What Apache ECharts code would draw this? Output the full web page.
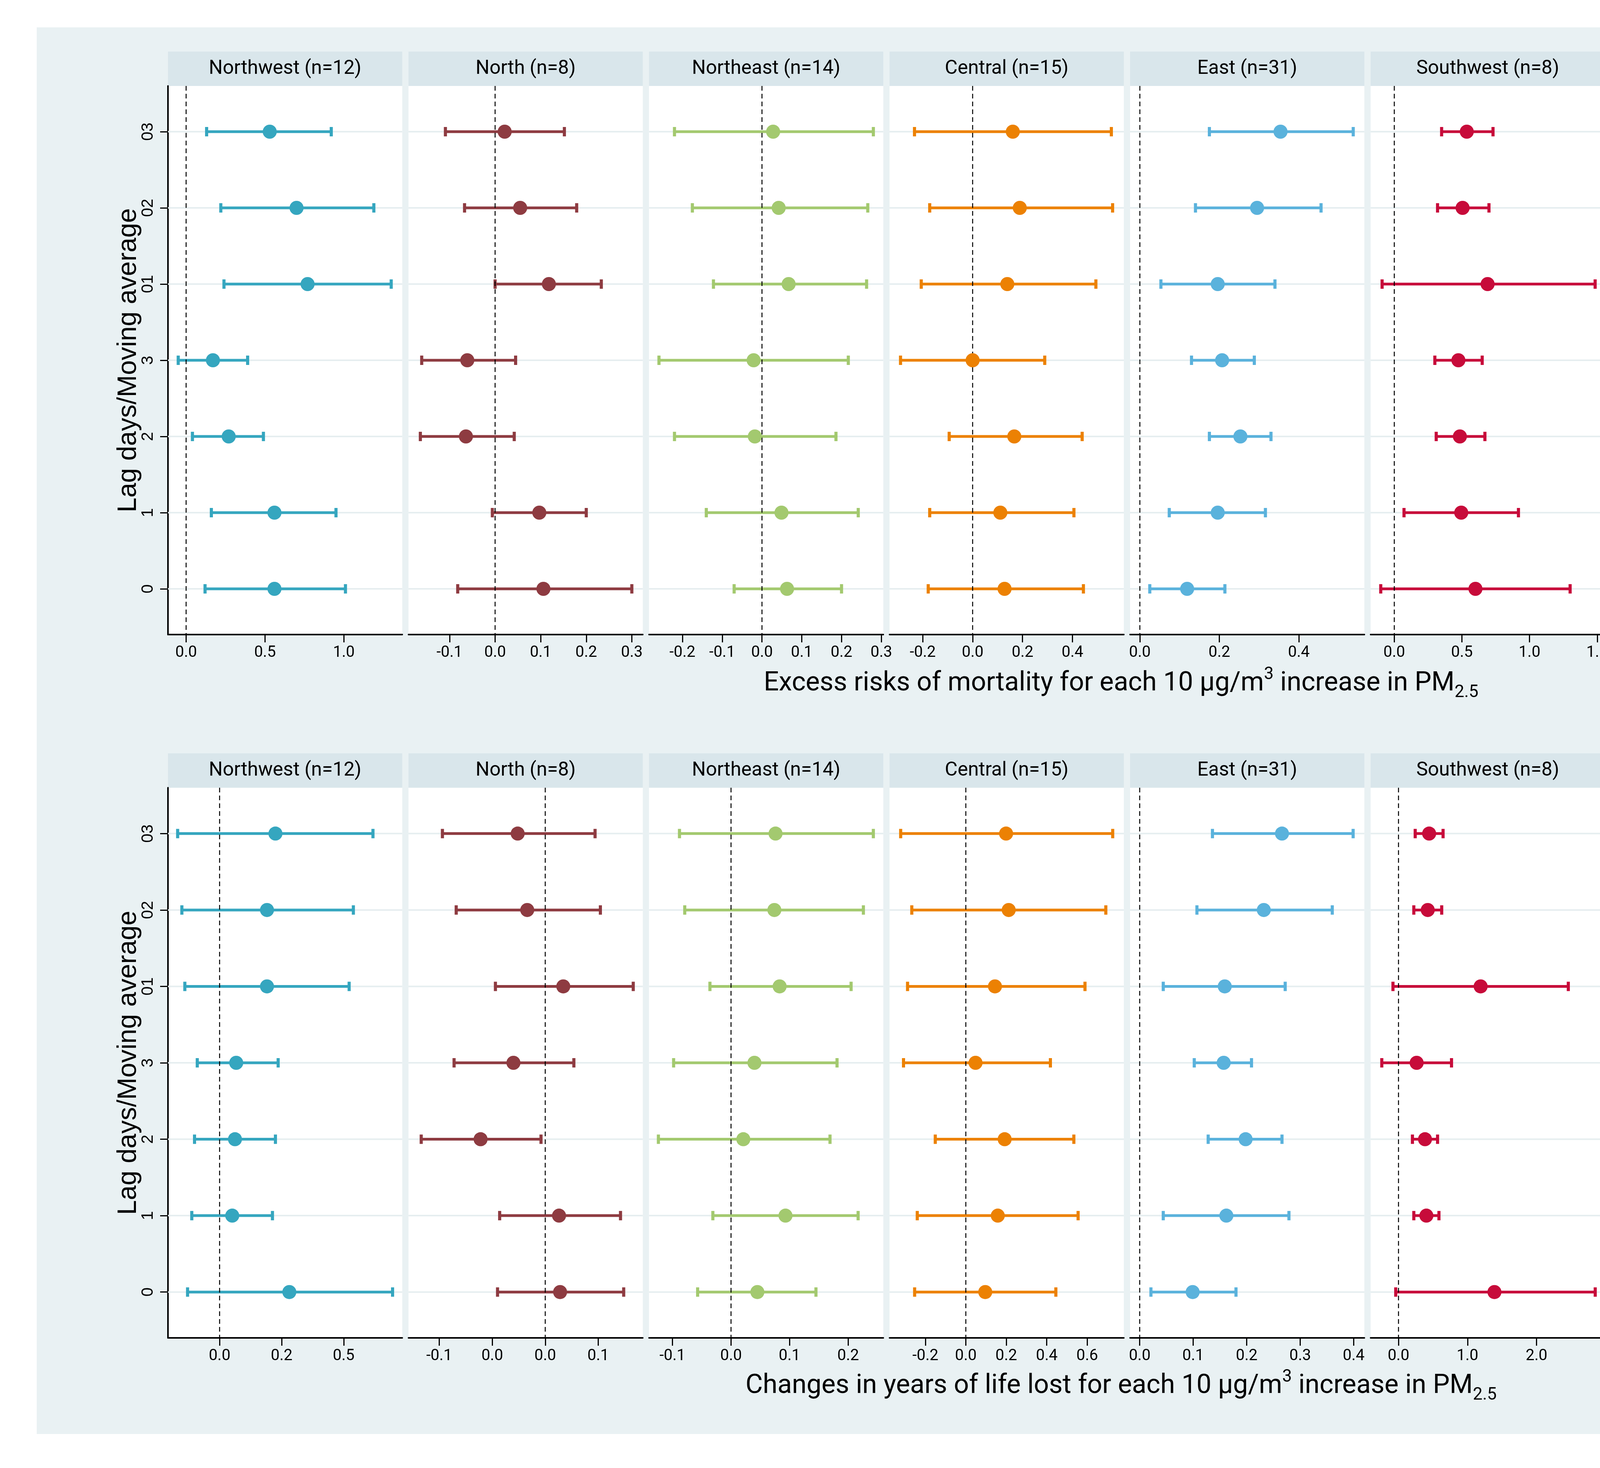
<!DOCTYPE html>
<html>
<head>
<meta charset="utf-8">
<script src="https://cdn.jsdelivr.net/npm/echarts@6/dist/echarts.min.js"></script>
<style>
html, body { margin: 0; padding: 0; background: #fff; }
#main { width: 5559px; height: 3757px; }
</style>
</head>
<body>
<div id="main"></div>
<script>
// panels and lags (lags from bottom to top of each panel)
var regionNames = ['Northwest (n=12)', 'North (n=8)', 'Northeast (n=14)', 'Central (n=15)',
	'East (n=31)', 'Southwest (n=8)', 'South (n=8)', 'National (n=96)'];
var regionColors = ['#35a6bf', '#8e3b41', '#a3c96f', '#ec8103', '#5ab2dc', '#c70b3a', '#9690d4', '#cec282'];
var lagLabels = ['0', '1', '2', '3', '01', '02', '03'];

// excess risks of mortality: [estimate, lower, upper] per lag
var erNorthwest = [[0.56, 0.12, 1.01], [0.56, 0.16, 0.95], [0.27, 0.04, 0.49], [0.17, -0.05, 0.39], [0.77, 0.24, 1.30], [0.70, 0.22, 1.19], [0.53, 0.13, 0.92]];
var erNorth = [[0.106, -0.082, 0.300], [0.097, -0.006, 0.200], [-0.064, -0.164, 0.042], [-0.061, -0.161, 0.045], [0.118, 0.000, 0.233], [0.055, -0.067, 0.179], [0.021, -0.109, 0.152]];
var erNortheast = [[0.063, -0.070, 0.200], [0.049, -0.140, 0.242], [-0.018, -0.220, 0.186], [-0.021, -0.259, 0.217], [0.067, -0.122, 0.263], [0.042, -0.175, 0.266], [0.028, -0.220, 0.280]];
var erCentral = [[0.128, -0.178, 0.444], [0.111, -0.172, 0.406], [0.167, -0.094, 0.439], [0.000, -0.289, 0.289], [0.139, -0.206, 0.494], [0.189, -0.172, 0.561], [0.161, -0.233, 0.556]];
var erEast = [[0.119, 0.025, 0.214], [0.196, 0.074, 0.316], [0.253, 0.175, 0.330], [0.207, 0.130, 0.288], [0.196, 0.053, 0.340], [0.295, 0.140, 0.456], [0.354, 0.175, 0.537]];
var erSouthwest = [[0.60, -0.10, 1.30], [0.495, 0.072, 0.918], [0.485, 0.31, 0.67], [0.474, 0.30, 0.65], [0.69, -0.09, 1.485], [0.505, 0.32, 0.70], [0.536, 0.35, 0.73]];
var erSouth = [[0.011, -0.249, 0.275], [0.057, -0.166, 0.279], [0.113, -0.057, 0.287], [0.155, -0.015, 0.325], [0.049, -0.219, 0.313], [0.079, -0.166, 0.328], [0.102, -0.121, 0.325]];
var erNational = [[0.149, 0.068, 0.248], [0.185, 0.096, 0.271], [0.182, 0.106, 0.256], [0.119, 0.043, 0.195], [0.208, 0.109, 0.309], [0.256, 0.144, 0.365], [0.263, 0.144, 0.387]];

// changes in years of life lost: [estimate, lower, upper] per lag
var yllNorthwest = [[0.281, -0.129, 0.697], [0.051, -0.112, 0.213], [0.062, -0.101, 0.225], [0.067, -0.090, 0.236], [0.191, -0.140, 0.522], [0.191, -0.152, 0.539], [0.225, -0.169, 0.618]];
var yllNorth = [[0.014, -0.045, 0.074], [0.013, -0.043, 0.071], [-0.061, -0.117, -0.004], [-0.030, -0.086, 0.027], [0.017, -0.047, 0.083], [-0.017, -0.084, 0.052], [-0.026, -0.097, 0.047]];
var yllNortheast = [[0.045, -0.057, 0.145], [0.093, -0.031, 0.217], [0.021, -0.124, 0.169], [0.040, -0.098, 0.181], [0.083, -0.036, 0.205], [0.074, -0.079, 0.226], [0.076, -0.088, 0.243]];
var yllCentral = [[0.096, -0.253, 0.445], [0.158, -0.240, 0.555], [0.192, -0.151, 0.534], [0.048, -0.308, 0.418], [0.144, -0.288, 0.589], [0.212, -0.267, 0.692], [0.199, -0.322, 0.726]];
var yllEast = [[0.099, 0.021, 0.180], [0.162, 0.044, 0.279], [0.198, 0.128, 0.266], [0.157, 0.102, 0.209], [0.159, 0.044, 0.272], [0.232, 0.107, 0.360], [0.266, 0.136, 0.399]];
var yllSouthwest = [[1.39, -0.04, 2.85], [0.404, 0.222, 0.586], [0.384, 0.202, 0.566], [0.263, -0.242, 0.768], [1.19, -0.08, 2.46], [0.424, 0.222, 0.626], [0.444, 0.242, 0.646]];
var yllSouth = [[0.064, -0.099, 0.232], [0.031, -0.135, 0.196], [0.008, -0.158, 0.170], [0.020, -0.142, 0.186], [0.051, -0.120, 0.224], [0.041, -0.137, 0.216], [0.038, -0.145, 0.221]];
var yllNational = [[0.073, 0.030, 0.114], [0.121, 0.054, 0.186], [0.129, 0.066, 0.191], [0.100, 0.045, 0.154], [0.120, 0.055, 0.184], [0.163, 0.080, 0.243], [0.182, 0.091, 0.273]];

// x scales of each panel
var erRange = [[-0.115, 1.37], [-0.19, 0.324], [-0.284, 0.305], [-0.333, 0.606], [-0.0246, 0.565], [-0.175, 1.557], [-0.279, 0.355], [-0.02, 0.403]];
var erTicks = [[0, 0.5, 1], [-0.1, 0, 0.1, 0.2, 0.3], [-0.2, -0.1, 0, 0.1, 0.2, 0.3], [-0.2, 0, 0.2, 0.4], [0, 0.2, 0.4], [0, 0.5, 1, 1.5], [-0.2, 0, 0.2], [0, 0.1, 0.2, 0.3, 0.4]];
var erTickLabels = [['0.0', '0.5', '1.0'], ['-0.1', '0.0', '0.1', '0.2', '0.3'], ['-0.2', '-0.1', '0.0', '0.1', '0.2', '0.3'], ['-0.2', '0.0', '0.2', '0.4'],
	['0.0', '0.2', '0.4'], ['0.0', '0.5', '1.0', '1.5'], ['-0.2', '0.0', '0.2'], ['0.0', '0.1', '0.2', '0.3', '0.4']];
var yllRange = [[-0.208, 0.736], [-0.129, 0.092], [-0.140, 0.260], [-0.377, 0.781], [-0.018, 0.420], [-0.404, 2.99], [-0.178, 0.249], [-0.014, 0.284]];
var yllTicks = [[0, 0.25, 0.5], [-0.1, -0.05, 0, 0.05], [-0.1, 0, 0.1, 0.2], [-0.2, 0, 0.2, 0.4, 0.6], [0, 0.1, 0.2, 0.3, 0.4], [0, 1, 2], [-0.1, 0, 0.1, 0.2], [0, 0.1, 0.2]];
var yllTickLabels = [['0.0', '0.2', '0.5'], ['-0.1', '0.0', '0.0', '0.1'], ['-0.1', '0.0', '0.1', '0.2'], ['-0.2', '0.0', '0.2', '0.4', '0.6'],
	['0.0', '0.1', '0.2', '0.3', '0.4'], ['0.0', '1.0', '2.0'], ['-0.1', '0.0', '0.1', '0.2'], ['0.0', '0.1', '0.2']];

var erData = [erNorthwest, erNorth, erNortheast, erCentral, erEast, erSouthwest, erSouth, erNational];
var yllData = [yllNorthwest, yllNorth, yllNortheast, yllCentral, yllEast, yllSouthwest, yllSouth, yllNational];

var W = 5559, H = 3757;
var plotLeft = 430, plotRight = 5340, gap = 16;
var panelW = (plotRight - plotLeft - 7 * gap) / 8;
var rowTop = [220, 2016], rowH = [1404, 1408], stripH = 88;
var titleY = [1750, 3548];
var bgColor = '#e9f1f3', stripColor = '#d9e6eb', gridColor = '#e6eef0';

function renderRow(params, api) {
	var row = api.value(3);
	var mid = api.coord([api.value(0), row]);
	var lo = api.coord([api.value(1), row]);
	var hi = api.coord([api.value(2), row]);
	var cs = params.coordSys;
	var color = api.visual('color');
	var y = mid[1];
	var kids = [
		{type: 'line', z2: 1, shape: {x1: cs.x, y1: y, x2: cs.x + cs.width, y2: y}, style: {stroke: gridColor, lineWidth: 4}},
		{type: 'line', z2: 10, shape: {x1: lo[0], y1: y, x2: hi[0], y2: y}, style: {stroke: color, lineWidth: 7}},
		{type: 'line', z2: 10, shape: {x1: lo[0], y1: y - 12, x2: lo[0], y2: y + 12}, style: {stroke: color, lineWidth: 8}},
		{type: 'line', z2: 10, shape: {x1: hi[0], y1: y - 12, x2: hi[0], y2: y + 12}, style: {stroke: color, lineWidth: 8}},
		{type: 'circle', z2: 12, shape: {cx: mid[0], cy: y, r: 18}, style: {fill: color}}
	];
	if (params.dataIndex === 0) {
		// dashed reference line at zero, drawn over the interval lines
		var zx = api.coord([0, row])[0];
		kids.push({type: 'line', z2: 11, shape: {x1: zx, y1: cs.y, x2: zx, y2: cs.y + cs.height},
			style: {stroke: '#000', lineWidth: 2.5, lineDash: [12, 8]}});
	}
	return {type: 'group', children: kids};
}

var grids = [], xAxes = [], yAxes = [], series = [], graphics = [];
var rowSets = [
	{data: erData, range: erRange, ticks: erTicks, labels: erTickLabels,
		title: '{t|Excess risks of mortality for each 10 \u03bcg/m}{sup|3}{t| increase in PM}{sub|2.5}'},
	{data: yllData, range: yllRange, ticks: yllTicks, labels: yllTickLabels,
		title: '{t|Changes in years of life lost for each 10 \u03bcg/m}{sup|3}{t| increase in PM}{sub|2.5}'}
];
var lagIdx = lagLabels.map(function(l, i) { return i; });

rowSets.forEach(function(set, r) {
	regionNames.forEach(function(name, i) {
		var g = r * 8 + i;
		var left = plotLeft + i * (panelW + gap);
		grids.push({left: left, top: rowTop[r], width: panelW, height: rowH[r],
			show: true, backgroundColor: '#fff', borderWidth: 0});
		(function(ticks, labels) {
			xAxes.push({
				type: 'value', gridIndex: g, min: set.range[i][0], max: set.range[i][1],
				splitLine: {show: false},
				axisLine: {show: true, onZero: false, lineStyle: {color: '#000', width: 4}},
				axisTick: {show: true, customValues: ticks, length: 20, lineStyle: {color: '#000', width: 3}},
				axisLabel: {show: true, customValues: ticks, margin: 27, fontFamily: 'Roboto', fontSize: 40, color: '#000',
					formatter: function(v) { return labels[ticks.indexOf(v)]; }}
			});
		})(set.ticks[i], set.labels[i]);
		yAxes.push({
			type: 'value', gridIndex: g, min: -0.6, max: 6.6, show: i === 0,
			splitLine: {show: false},
			axisLine: {show: true, onZero: false, lineStyle: {color: '#000', width: 4}},
			axisTick: {show: true, customValues: lagIdx, length: 20, lineStyle: {color: '#000', width: 3}},
			axisLabel: {show: true, customValues: lagIdx, rotate: 90, margin: 30, fontFamily: 'Liberation Sans', fontSize: 42, color: '#000',
				formatter: function(v) { return lagLabels[v]; }}
		});
		series.push({
			type: 'custom', xAxisIndex: g, yAxisIndex: g, renderItem: renderRow,
			itemStyle: {color: regionColors[i]},
			encode: {x: [0, 1, 2], y: 3},
			data: set.data[i].map(function(d, k) { return [d[0], d[1], d[2], k]; })
		});
		graphics.push({type: 'rect', left: left, top: rowTop[r] - stripH,
			shape: {width: panelW, height: stripH}, style: {fill: stripColor}});
		graphics.push({type: 'text', x: left + panelW / 2, y: rowTop[r] - stripH / 2,
			style: {text: name, fontFamily: 'Roboto', fontSize: 50, fill: '#000', align: 'center', verticalAlign: 'middle'}});
	});
	// y axis title of the row
	graphics.push({type: 'text', x: 329, y: rowTop[r] + rowH[r] / 2, rotation: Math.PI / 2,
		style: {text: 'Lag days/Moving average', fontFamily: 'Liberation Sans', fontSize: 68, fill: '#000',
			align: 'center', verticalAlign: 'middle'}});
	// x axis title of the row
	graphics.push({type: 'text', x: 2870, y: titleY[r],
		style: {text: set.title, align: 'center', verticalAlign: 'middle',
			rich: {
				t: {fontFamily: 'Roboto', fontSize: 68, lineHeight: 90, fill: '#000', color: '#000'},
				sup: {fontFamily: 'Roboto', fontSize: 44, lineHeight: 44, verticalAlign: 'top', fill: '#000', color: '#000'},
				sub: {fontFamily: 'Roboto', fontSize: 44, lineHeight: 44, verticalAlign: 'bottom', fill: '#000', color: '#000'}
			}}});
});

// white margin round the shaded figure area
graphics.push({type: 'rect', left: 0, top: 0, shape: {width: W, height: 70}, style: {fill: '#fff'}});
graphics.push({type: 'rect', left: 0, top: 3670, shape: {width: W, height: H - 3670}, style: {fill: '#fff'}});
graphics.push({type: 'rect', left: 0, top: 0, shape: {width: 94, height: H}, style: {fill: '#fff'}});
graphics.push({type: 'rect', left: 5532, top: 0, shape: {width: W - 5532, height: H}, style: {fill: '#fff'}});

var myChart = echarts.init(document.getElementById('main'));
myChart.setOption({
	animation: false,
	backgroundColor: bgColor,
	grid: grids,
	xAxis: xAxes,
	yAxis: yAxes,
	series: series,
	graphic: graphics
});
</script>
</body>
</html>
